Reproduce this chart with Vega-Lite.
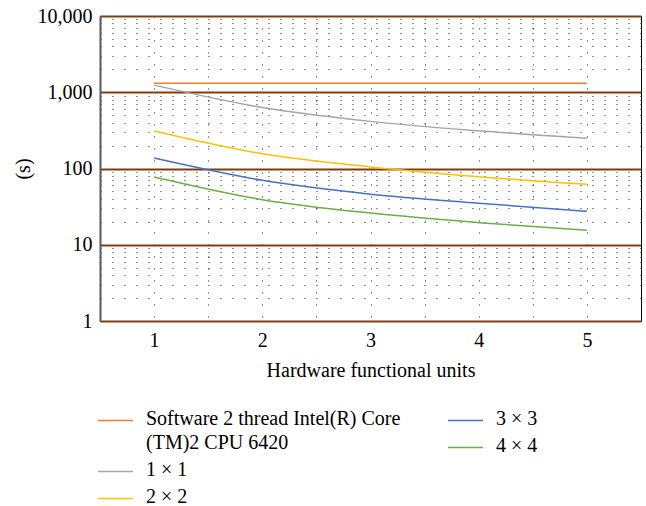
{
  "$schema": "https://vega.github.io/schema/vega-lite/v6.json",
  "width": 541,
  "height": 305,
  "autosize": {"type": "none"},
  "padding": {"left": 100, "top": 16, "right": 5, "bottom": 185},
  "background": "white",
  "config": {
    "font": "Liberation Serif",
    "view": {"stroke": "#000", "strokeWidth": 1}
  },
  "datasets": {
    "a": [
      {"units": 1, "seconds": 1313, "series": "Software 2 thread Intel(R) Core (TM)2 CPU 6420"},
      {"units": 5, "seconds": 1313, "series": "Software 2 thread Intel(R) Core (TM)2 CPU 6420"},
      {"units": 1, "seconds": 1240, "series": "1 × 1"},
      {"units": 2, "seconds": 630, "series": "1 × 1"},
      {"units": 3, "seconds": 415, "series": "1 × 1"},
      {"units": 4, "seconds": 312, "series": "1 × 1"},
      {"units": 5, "seconds": 250, "series": "1 × 1"},
      {"units": 1, "seconds": 310, "series": "2 × 2"},
      {"units": 2, "seconds": 156, "series": "2 × 2"},
      {"units": 3, "seconds": 105, "series": "2 × 2"},
      {"units": 4, "seconds": 78, "series": "2 × 2"},
      {"units": 5, "seconds": 62, "series": "2 × 2"}
    ],
    "b": [
      {"units": 1, "seconds": 137, "series": "3 × 3"},
      {"units": 2, "seconds": 70, "series": "3 × 3"},
      {"units": 3, "seconds": 46, "series": "3 × 3"},
      {"units": 4, "seconds": 35, "series": "3 × 3"},
      {"units": 5, "seconds": 27.5, "series": "3 × 3"},
      {"units": 1, "seconds": 77.5, "series": "4 × 4"},
      {"units": 2, "seconds": 39, "series": "4 × 4"},
      {"units": 3, "seconds": 26, "series": "4 × 4"},
      {"units": 4, "seconds": 19.5, "series": "4 × 4"},
      {"units": 5, "seconds": 15.5, "series": "4 × 4"}
    ]
  },
  "encoding": {
    "x": {
      "field": "units",
      "type": "quantitative",
      "scale": {"domain": [0.5, 5.5], "nice": false, "zero": false},
      "axis": {
        "title": "Hardware functional units",
        "titleFontSize": 20,
        "titleFontWeight": "normal",
        "titleColor": "#000",
        "titlePadding": 10,
        "values": [1, 1.5, 2, 2.5, 3, 3.5, 4, 4.5, 5, 5.5],
        "labelExpr": "datum.value % 1 == 0 ? format(datum.value, 'd') : ''",
        "labelFontSize": 20,
        "labelColor": "#000",
        "labelPadding": 9,
        "labelOverlap": false,
        "labelFlush": false,
        "ticks": false,
        "domain": false,
        "grid": true,
        "gridColor": "#222",
        "gridDash": [1, 11],
        "gridWidth": 1
      }
    },
    "y": {
      "field": "seconds",
      "type": "quantitative",
      "scale": {"type": "log", "domain": [1, 10000], "nice": false},
      "axis": {
        "title": "(s)",
        "titleFontSize": 20,
        "titleFontWeight": "normal",
        "titleColor": "#000",
        "titlePadding": 4,
        "values": [1, 2, 3, 4, 5, 6, 7, 8, 9, 10, 20, 30, 40, 50, 60, 70, 80, 90, 100, 200, 300, 400, 500, 600, 700, 800, 900, 1000, 2000, 3000, 4000, 5000, 6000, 7000, 8000, 9000, 10000],
        "labelExpr": "indexof([1,10,100,1000,10000], datum.value) >= 0 ? format(datum.value, ',') : ''",
        "labelFontSize": 20,
        "labelColor": "#000",
        "labelPadding": 8,
        "labelOverlap": false,
        "labelFlush": false,
        "ticks": false,
        "domainColor": "#595959",
        "domainWidth": 2,
        "grid": true,
        "gridColor": {"condition": {"test": "indexof([1,10,100,1000,10000], datum.value) >= 0", "value": "#843C0C"}, "value": "#222"},
        "gridWidth": {"condition": {"test": "indexof([1,10,100,1000,10000], datum.value) >= 0", "value": 2}, "value": 1},
        "gridDash": {"condition": {"test": "indexof([1,10,100,1000,10000], datum.value) >= 0", "value": []}, "value": [1, 11]}
      }
    }
  },
  "layer": [
    {
      "data": {"name": "a"},
      "mark": {"type": "line", "strokeWidth": 1.5, "interpolate": "monotone"},
      "encoding": {
        "color": {
          "field": "series",
          "type": "nominal",
          "scale": {
            "domain": ["Software 2 thread Intel(R) Core (TM)2 CPU 6420", "1 × 1", "2 × 2"],
            "range": ["#ED7D31", "#A5A5A5", "#FFC000"]
          },
          "legend": {
            "orient": "none",
            "legendX": -3,
            "legendY": 386,
            "title": null,
            "padding": 0,
            "symbolType": "stroke",
            "symbolSize": 1225,
            "symbolStrokeWidth": 1.5,
            "labelFontSize": 20,
            "labelColor": "#000",
            "labelLimit": 600,
            "labelOffset": 12,
            "rowPadding": -2,
            "labelExpr": "datum.value == 'Software 2 thread Intel(R) Core (TM)2 CPU 6420' ? ['Software 2 thread Intel(R) Core', '(TM)2 CPU 6420'] : datum.label",
            "encode": {
              "labels": {"update": {"dy": {"value": -2}, "lineHeight": {"value": 24}}}
            }
          }
        }
      }
    },
    {
      "data": {"name": "b"},
      "mark": {"type": "line", "strokeWidth": 1.5, "interpolate": "monotone"},
      "encoding": {
        "stroke": {
          "field": "series",
          "type": "nominal",
          "scale": {
            "domain": ["3 × 3", "4 × 4"],
            "range": ["#4472C4", "#70AD47"]
          },
          "legend": {
            "orient": "none",
            "legendX": 347,
            "legendY": 386,
            "title": null,
            "padding": 0,
            "symbolType": "stroke",
            "symbolSize": 1225,
            "symbolStrokeWidth": 1.5,
            "labelFontSize": 20,
            "labelColor": "#000",
            "labelOffset": 12,
            "rowPadding": -3,
            "encode": {
              "labels": {"update": {"dy": {"value": -2}}}
            }
          }
        }
      }
    }
  ]
}
